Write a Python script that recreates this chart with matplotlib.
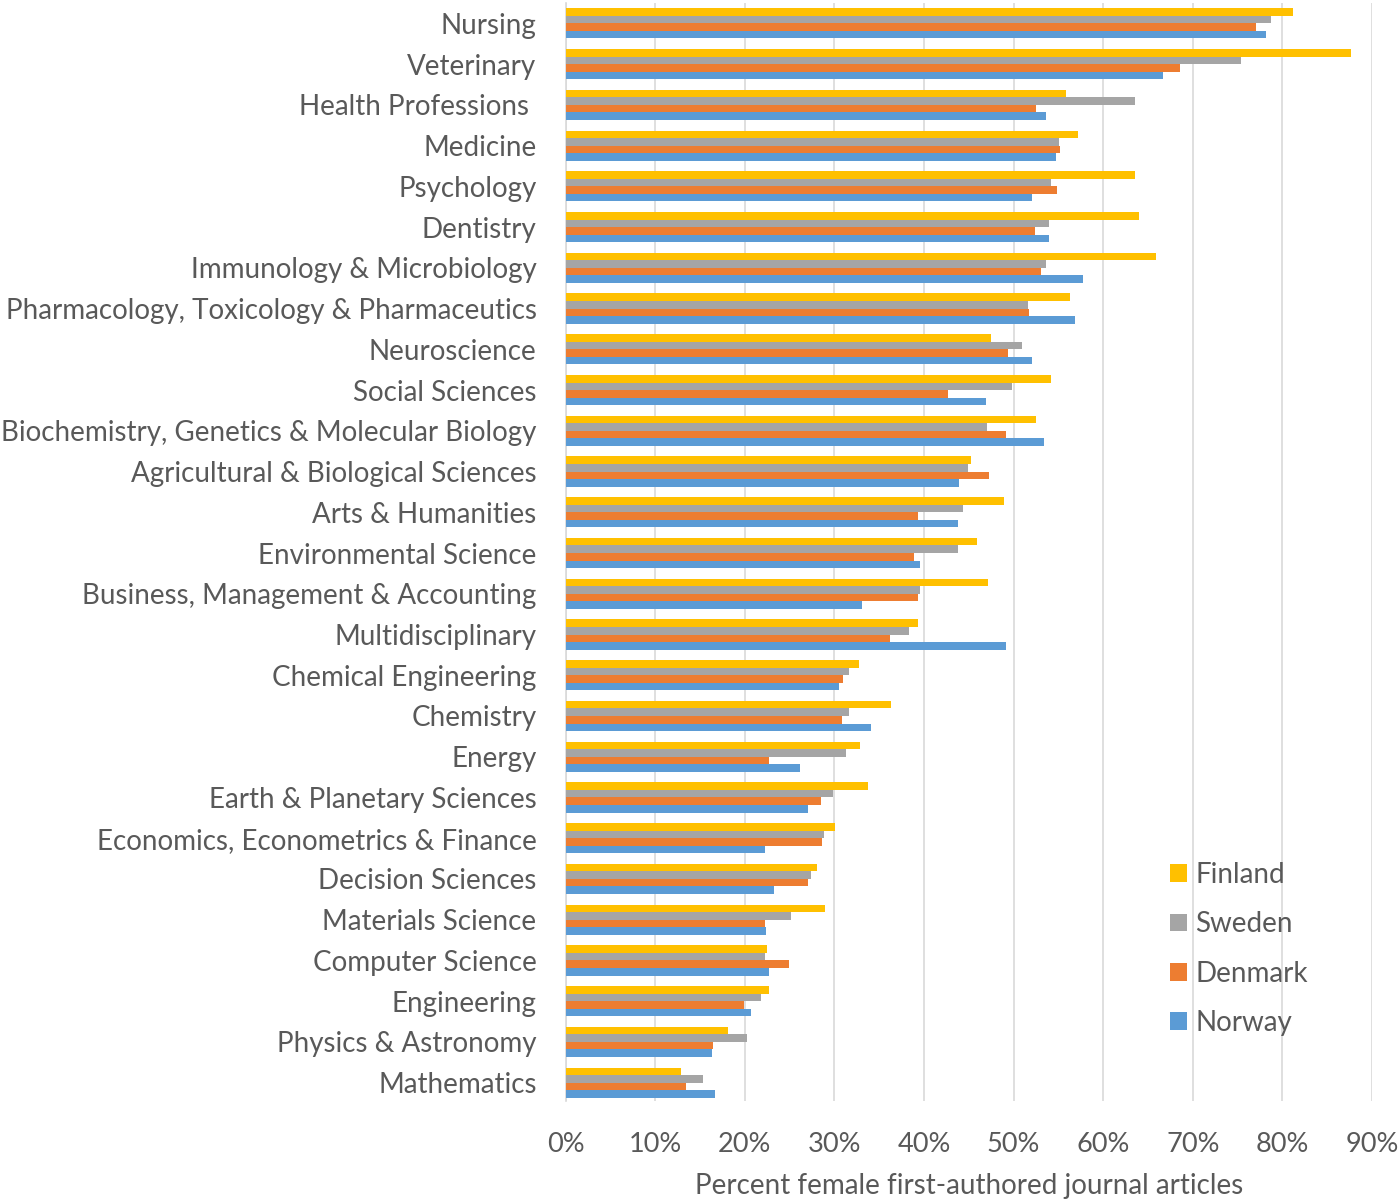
import matplotlib
matplotlib.use("Agg")
import matplotlib.pyplot as plt
import numpy as np

categories = ["Nursing", "Veterinary", "Health Professions ", "Medicine", "Psychology",
              "Dentistry", "Immunology & Microbiology",
              "Pharmacology, Toxicology & Pharmaceutics", "Neuroscience",
              "Social Sciences", "Biochemistry, Genetics & Molecular Biology",
              "Agricultural & Biological Sciences", "Arts & Humanities",
              "Environmental Science", "Business, Management & Accounting",
              "Multidisciplinary", "Chemical Engineering", "Chemistry", "Energy",
              "Earth & Planetary Sciences", "Economics, Econometrics & Finance",
              "Decision Sciences", "Materials Science", "Computer Science",
              "Engineering", "Physics & Astronomy", "Mathematics"]

finland = [81.2, 87.7, 55.8, 57.2, 63.6, 64.0, 65.9, 56.3, 47.5, 54.2, 52.5, 45.2, 48.9,
           45.9, 47.1, 39.3, 32.7, 36.3, 32.8, 33.7, 30.1, 28.1, 28.9, 22.5, 22.7, 18.1, 12.9]
sweden = [78.7, 75.4, 63.6, 55.1, 54.2, 54.0, 53.6, 51.6, 50.9, 49.8, 47.0, 44.9, 44.4,
          43.8, 39.6, 38.3, 31.6, 31.6, 31.3, 29.8, 28.8, 27.4, 25.2, 22.2, 21.8, 20.2, 15.3]
denmark = [77.0, 68.6, 52.5, 55.2, 54.8, 52.4, 53.1, 51.7, 49.4, 42.7, 49.2, 47.2, 39.3,
           38.9, 39.3, 36.2, 31.0, 30.8, 22.7, 28.5, 28.6, 27.1, 22.2, 24.9, 19.9, 16.4, 13.4]
norway = [78.2, 66.7, 53.6, 54.7, 52.0, 53.9, 57.7, 56.8, 52.1, 46.9, 53.4, 43.9, 43.8,
          39.6, 33.1, 49.1, 30.5, 34.1, 26.2, 27.1, 22.2, 23.2, 22.4, 22.7, 20.7, 16.3, 16.7]

series_names = ["Finland", "Sweden", "Denmark", "Norway"]
series_values = [finland, sweden, denmark, norway]
colors = ["#FFC000", "#A5A5A5", "#ED7D31", "#5B9BD5"]
xticks = [0, 10, 20, 30, 40, 50, 60, 70, 80, 90]
xticklabels = ["0%", "10%", "20%", "30%", "40%", "50%", "60%", "70%", "80%", "90%"]

plt.rcParams['font.family'] = ['Lato', 'DejaVu Sans']
txt = "#595959"

W, H = 1400, 1203
fig = plt.figure(figsize=(14, 12.03), dpi=100)
left, right, top, bottom = 565.7, 1372, 3, 1101
ax = fig.add_axes([left/W, 1 - bottom/H, (right-left)/W, (bottom-top)/H])

y = np.arange(len(categories))
h = 0.185
offsets = [-1.5*h, -0.5*h, 0.5*h, 1.5*h]
handles = []
for name, vals, c, off in zip(series_names, series_values, colors, offsets):
    b = ax.barh(y + off, vals, height=h, color=c, label=name, zorder=3)
    handles.append(b)

ax.set_ylim(26.45, -0.5)
ax.set_xlim(0, 90)
ax.set_yticks(y)
ax.set_yticklabels(categories, fontsize=20, color=txt)
ax.set_xticks(xticks)
ax.set_xticklabels(xticklabels, fontsize=19.5, color=txt)
ax.tick_params(axis='both', length=0)
ax.tick_params(axis='y', pad=21)
ax.tick_params(axis='x', pad=22)
ax.grid(axis='x', color="#D9D9D9", linewidth=1.2, zorder=0)
for s in ["top", "right", "bottom"]:
    ax.spines[s].set_visible(False)
ax.spines["left"].set_color("#D9D9D9")
ax.spines["left"].set_linewidth(1.2)
ax.set_xlabel("Percent female first-authored journal articles", fontsize=20,
              color=txt, labelpad=12)

leg = fig.legend(handles=handles, loc="upper left",
                 bbox_to_anchor=(1170/W, 1 - 862/H), bbox_transform=fig.transFigure,
                 frameon=False, fontsize=20, labelcolor=txt, handlelength=0.6,
                 handleheight=0.6, labelspacing=0.84, handletextpad=0.32,
                 borderpad=0, borderaxespad=0)

fig.savefig("out.png", dpi=100)
